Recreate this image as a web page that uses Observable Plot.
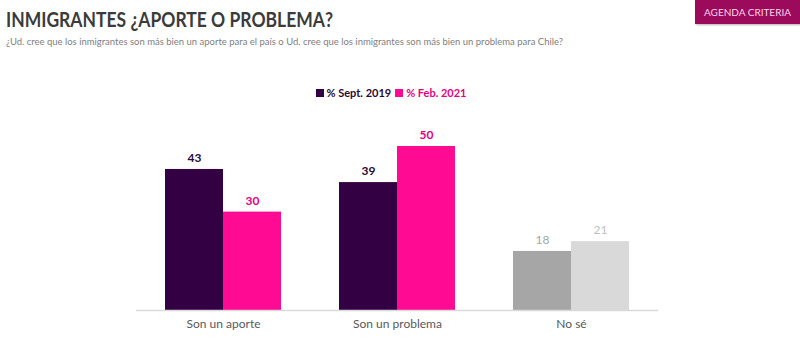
<!DOCTYPE html>
<html>
<head>
<meta charset="utf-8">
<script src="https://cdn.jsdelivr.net/npm/d3@7"></script>
<script src="https://cdn.jsdelivr.net/npm/@observablehq/plot@0.6"></script>
<style>
  body { margin: 0; background: #fff; font-family: Lato, "Open Sans", sans-serif; width: 800px; height: 339px; overflow: hidden; position: relative; }
  #header { position: relative; height: 110px; }
  #title { position: absolute; left: 6px; top: 6px; font-size: 21px; font-weight: 700; color: #3b3b3b; white-space: nowrap; transform-origin: left top; }
  #subtitle { position: absolute; left: 6px; top: 36px; font-size: 9.5px; color: #808080; white-space: nowrap; transform-origin: left top; }
  #badge { position: absolute; left: 695px; top: 0; width: 105px; height: 24px; background: #9c0a5c; color: #ffd3ec; font-size: 10px; line-height: 24px; text-align: center; box-shadow: 1px 1px 2px rgba(0,0,0,0.3); }
  #legend { position: absolute; left: 0; width: 782px; top: 86px; text-align: center; font-size: 11px; font-weight: 700; white-space: nowrap; }
  #legend span.sw { display: inline-block; width: 8px; height: 8px; margin-right: 3px; vertical-align: 0px; }
  #legend span.it { margin: 0 2px; }
  #chart { position: absolute; left: 0; top: 110px; }
</style>
</head>
<body>
<div id="header">
  <div id="title">INMIGRANTES ¿APORTE O PROBLEMA?</div>
  <div id="subtitle">¿Ud. cree que los inmigrantes son más bien un aporte para el país o Ud. cree que los inmigrantes son más bien un problema para Chile?</div>
  <div id="badge">AGENDA CRITERIA</div>
  <div id="legend"></div>
</div>
<div id="chart"></div>
<script>
const categories = ["Son un aporte", "Son un problema", "No sé"];
const seriesNames = ["% Sept. 2019", "% Feb. 2021"];
const sept2019 = [43, 39, 18];
const feb2021 = [30, 50, 21];
const seriesColors = ["#330044", "#ff0a93"];
const seriesTextColors = ["#2a0a35", "#e6007e"];
const sept2019Colors = ["#330044", "#330044", "#a6a6a6"];
const feb2021Colors = ["#ff0a93", "#ff0a93", "#d9d9d9"];
const sept2019LabelColors = ["#2a0a35", "#2a0a35", "#a6a6a6"];
const feb2021LabelColors = ["#e6007e", "#e6007e", "#c0c0c0"];

// fit title/subtitle widths to reference
function fit(id, w) {
  const el = document.getElementById(id);
  const cur = el.getBoundingClientRect().width;
  el.style.transform = `scaleX(${w / cur})`;
}
fit("title", 327);
fit("subtitle", 557);

// legend
const legend = document.getElementById("legend");
seriesNames.forEach((name, i) => {
  const it = document.createElement("span");
  it.className = "it";
  it.style.color = seriesTextColors[i];
  const sw = document.createElement("span");
  sw.className = "sw";
  sw.style.background = seriesColors[i];
  it.appendChild(sw);
  it.appendChild(document.createTextNode(name));
  legend.appendChild(it);
});

const data1 = categories.map((c, i) => ({cat: c, value: sept2019[i], fill: sept2019Colors[i], lc: sept2019LabelColors[i], bold: i < 2}));
const data2 = categories.map((c, i) => ({cat: c, value: feb2021[i], fill: feb2021Colors[i], lc: feb2021LabelColors[i], bold: i < 2}));

const half = 58;
const labelOpts = (dx, bold) => ({x: "cat", y: "value", text: d => String(d.value), fill: "lc", dx, dy: -11, fontSize: 12, fontWeight: bold ? 700 : 400});
const chart = Plot.plot({
  width: 800,
  height: 229,
  marginLeft: 136,
  marginRight: 142,
  marginTop: 36,
  marginBottom: 29,
  style: {fontFamily: "Lato, Open Sans, sans-serif", background: "transparent"},
  x: {domain: categories, paddingInner: 1/3, paddingOuter: 1/6, label: null},
  y: {domain: [0, 50], axis: null},
  marks: [
    Plot.barY(data1, {x: "cat", y: "value", fill: "fill", insetRight: half}),
    Plot.barY(data2, {x: "cat", y: "value", fill: "fill", insetLeft: half}),
    Plot.ruleY([0], {stroke: "#d9d9d9", strokeWidth: 1.5}),
    Plot.text(data1.filter(d => d.bold), labelOpts(-29, true)),
    Plot.text(data1.filter(d => !d.bold), labelOpts(-29, false)),
    Plot.text(data2.filter(d => d.bold), labelOpts(29, true)),
    Plot.text(data2.filter(d => !d.bold), labelOpts(29, false)),
    Plot.axisX({tickSize: 0, tickPadding: 9, fontSize: 12, fill: "#595959", label: null})
  ]
});
document.getElementById("chart").appendChild(chart);
</script>
</body>
</html>
